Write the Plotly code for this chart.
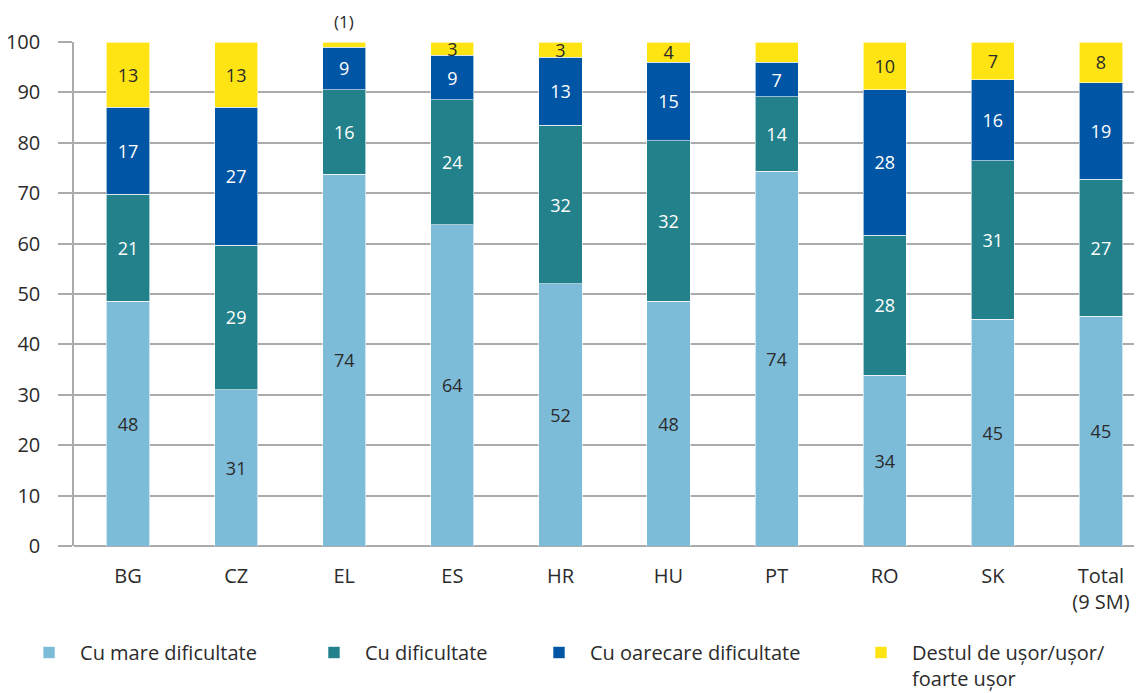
import plotly.graph_objects as go

categories = ["BG", "CZ", "EL", "ES", "HR", "HU", "PT", "RO", "SK", "Total<br>(9 SM)"]

# segment heights (percent)
mare = [48.6, 31.0, 73.8, 63.7, 52.0, 48.6, 74.4, 33.9, 45.0, 45.6]
dificultate = [21.2, 28.7, 16.7, 24.8, 31.5, 31.8, 14.7, 27.8, 31.4, 27.2]
oarecare = [17.3, 27.4, 8.5, 8.9, 13.5, 15.6, 6.9, 28.8, 16.1, 19.1]
usor = [12.9, 12.9, 1.0, 2.6, 3.0, 4.0, 4.0, 9.5, 7.5, 8.1]

# printed labels
mare_lbl = ["48", "31", "74", "64", "52", "48", "74", "34", "45", "45"]
dificultate_lbl = ["21", "29", "16", "24", "32", "32", "14", "28", "31", "27"]
oarecare_lbl = ["17", "27", "9", "9", "13", "15", "7", "28", "16", "19"]
usor_lbl = ["13", "13", "", "3", "3", "4", "4", "10", "7", "8"]

series = [
    ("Cu mare dificultate", mare, mare_lbl, "#7dbcd8", "#2b2b2b"),
    ("Cu dificultate", dificultate, dificultate_lbl, "#22818a", "white"),
    ("Cu oarecare dificultate", oarecare, oarecare_lbl, "#0055a4", "white"),
    ("Destul de ușor/ușor/<br>foarte ușor", usor, usor_lbl, "#ffe414", "#2b2b2b"),
]
legend_x = [-0.0524, 0.2144, 0.4251, 0.7266]

FONT = "Open Sans, sans-serif"

fig = go.Figure()
for i, (name, vals, lbls, color, txtcolor) in enumerate(series):
    leg = "legend" if i == 0 else f"legend{i + 1}"
    fig.add_trace(go.Bar(
        x=list(range(len(categories))),
        y=vals,
        name=name,
        text=lbls,
        textposition="inside",
        insidetextanchor="middle",
        textangle=0,
        textfont=dict(color=txtcolor, size=18, family=FONT),
        marker=dict(color=color, line=dict(color="rgba(255,255,255,0.6)", width=1)),
        width=0.4,
        cliponaxis=False,
        legend=leg,
    ))

fig.add_annotation(x=2, y=100, text="(1)", showarrow=False, yshift=21,
                   font=dict(size=17, color="#2b2b2b", family=FONT))

legend_common = dict(
    orientation="h",
    y=-0.1726, yanchor="top",
    xanchor="left",
    font=dict(size=20, family=FONT, color="#2b2b2b"),
    itemwidth=52,
    valign="top",
    bgcolor="rgba(0,0,0,0)",
)
legends = {}
for i, lx in enumerate(legend_x):
    key = "legend" if i == 0 else f"legend{i + 1}"
    legends[key] = dict(legend_common, x=lx)

# the page body adds an 8px offset, so the figure is sized to fit inside it
fig.update_layout(
    barmode="stack",
    width=1134,
    height=685,
    margin=dict(l=66, r=0, t=34, b=147, autoexpand=False),
    plot_bgcolor="white",
    paper_bgcolor="white",
    font=dict(family=FONT, size=20, color="#2b2b2b"),
    uniformtext=dict(minsize=18, mode="show"),
    showlegend=True,
    xaxis=dict(
        range=[-0.5, 9.38],
        tickmode="array",
        tickvals=list(range(len(categories))),
        ticktext=categories,
        showgrid=False,
        showline=False,
        ticks="",
        ticklabelstandoff=16,
        tickfont=dict(size=20),
        automargin=False,
    ),
    yaxis=dict(
        range=[0, 100],
        dtick=10,
        showgrid=True,
        gridcolor="#ababab",
        gridwidth=1.5,
        zeroline=True,
        zerolinecolor="#ababab",
        zerolinewidth=1.5,
        showline=True,
        linecolor="#ababab",
        linewidth=1.5,
        ticks="outside",
        ticklen=14,
        tickcolor="#ababab",
        tickwidth=1.5,
        ticklabelstandoff=14,
        tickfont=dict(size=20),
        automargin=False,
    ),
    **legends,
)

fig.write_html("out.html")
